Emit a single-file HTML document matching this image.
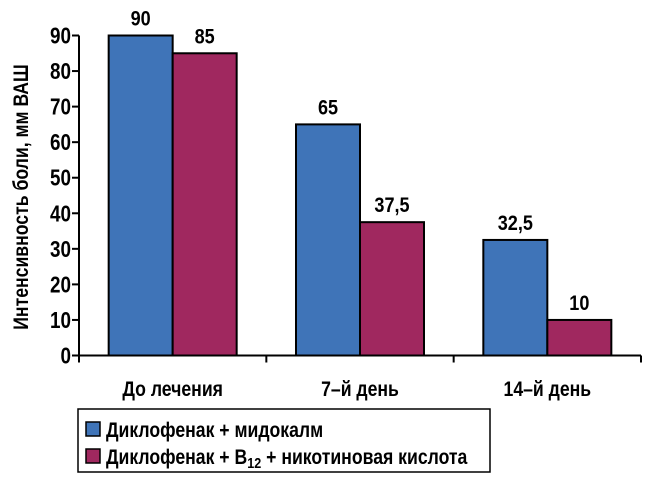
<!DOCTYPE html>
<html><head><meta charset="utf-8"><style>
body{margin:0;background:#fff}
svg text{font-family:"Liberation Sans",sans-serif;font-weight:bold}
</style></head><body>
<svg id="c" width="654" height="483">
<g id="g"></g>
<g>
<rect x="78" y="409" width="412" height="63" fill="#fff" stroke="#000" stroke-width="1.5"/>
<rect x="86" y="422" width="14" height="14" fill="#3f74b8" stroke="#000" stroke-width="1.5"/>
<text x="106" y="437" font-size="21" transform="translate(106 0) scale(0.84 1) translate(-106 0)">Диклофенак + мидокалм</text>
<rect x="86" y="449" width="14" height="14" fill="#a0285f" stroke="#000" stroke-width="1.5"/>
<text x="106" y="464" font-size="21" transform="translate(106 0) scale(0.84 1) translate(-106 0)">Диклофенак + B<tspan font-size="15" dy="4">12</tspan><tspan dy="-4"> + никотиновая кислота</tspan></text>
</g>
<text transform="translate(28 197) rotate(-90) scale(0.84 1)" text-anchor="middle" font-size="21">Интенсивность боли, мм ВАШ</text>
</svg>
<script>
const categories=["До лечения","7–й день","14–й день"];
const seriesA=[90,65,32.5];
const seriesB=[85,37.5,10];
const labelsA=["90","65","32,5"];
const labelsB=["85","37,5","10"];
const yTicks=[0,10,20,30,40,50,60,70,80,90];
const NS="http://www.w3.org/2000/svg";
const g=document.getElementById('g');
const x0=79,x1=641,y0=355.5,yTop=35.5,yMax=90;
const yS=v=>y0-(v/yMax)*(y0-yTop);
const gw=(x1-x0)/categories.length,bw=64;
function mk(t,a){const e=document.createElementNS(NS,t);for(const k in a)e.setAttribute(k,a[k]);g.appendChild(e);return e;}
yTicks.forEach(v=>{
 const l=mk('line',{x1:x0-7,x2:x0,y1:yS(v),y2:yS(v),stroke:'#000','stroke-width':2});
 
 
 const t=mk('text',{x:71,y:yS(v)+8,'text-anchor':'end','font-size':23,transform:`translate(71 0) scale(0.82 1) translate(-71 0)`});
 t.textContent=v;
 
 
});
categories.forEach((c,i)=>{
 const cx=x0+gw*(i+0.5);
 const ya=yS(seriesA[i]),yb=yS(seriesB[i]);
 const a=mk('rect',{x:cx-bw,y:ya,width:bw,height:y0-ya,fill:'#3f74b8',stroke:'#000','stroke-width':2});
 
 
 const b=mk('rect',{x:cx,y:yb,width:bw,height:y0-yb,fill:'#a0285f',stroke:'#000','stroke-width':2});
 
 
 const ta=mk('text',{x:cx-bw/2,y:ya-10,'text-anchor':'middle','font-size':21,transform:`translate(${cx-bw/2} 0) scale(0.86 1) translate(${-(cx-bw/2)} 0)`});
 ta.textContent=labelsA[i];
 
 
 const tb=mk('text',{x:cx+bw/2,y:yb-10,'text-anchor':'middle','font-size':21,transform:`translate(${cx+bw/2} 0) scale(0.86 1) translate(${-(cx+bw/2)} 0)`});
 tb.textContent=labelsB[i];
 
 
 const tc=mk('text',{x:cx,y:396,'text-anchor':'middle','font-size':21,transform:`translate(${cx} 0) scale(0.84 1) translate(${-cx} 0)`});
 tc.textContent=c;
 
 
});
for(let i=0;i<=categories.length;i++){
 const x=x0+gw*i;
 const l=mk('line',{x1:x,x2:x,y1:y0,y2:y0+7,stroke:'#000','stroke-width':2});
 
 
}
const ya=mk('line',{x1:x0,x2:x0,y1:yTop,y2:y0,stroke:'#000','stroke-width':2});


const xa=mk('line',{x1:x0-7,x2:x1,y1:y0,y2:y0,stroke:'#000','stroke-width':2});


</script>
</body></html>
